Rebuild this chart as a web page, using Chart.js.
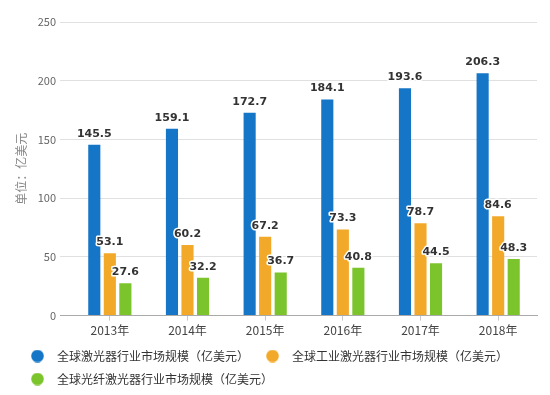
<!DOCTYPE html>
<html><head><meta charset="utf-8">
<script src="https://cdn.jsdelivr.net/npm/chart.js@4/dist/chart.umd.min.js"></script>
<style>html,body{margin:0;padding:0;background:#fff}</style>
</head><body>
<canvas id="c" width="550" height="395"></canvas>
<script>
const categories = ['2013年','2014年','2015年','2016年','2017年','2018年'];
const seriesNames = ['全球激光器行业市场规模（亿美元）','全球工业激光器行业市场规模（亿美元）','全球光纤激光器行业市场规模（亿美元）'];
const globalLaser = [145.5,159.1,172.7,184.1,193.6,206.3];
const industrialLaser = [53.1,60.2,67.2,73.3,78.7,84.6];
const fiberLaser = [27.6,32.2,36.7,40.8,44.5,48.3];
const yMin = 0, yMax = 250, yStep = 50;
const yTitle = '单位：亿美元';
const colors = ['#1576c7','#f2a929','#7cc42c'];

const CJK = '"Noto Sans CJK SC", "Noto Sans", sans-serif';

function dot(color){
  const c=document.createElement('canvas'); c.width=20; c.height=13;
  const g=c.getContext('2d'); g.fillStyle=color; g.beginPath(); g.arc(6.5,6.5,6.3,0,Math.PI*2); g.fill();
  return c;
}
const dots = colors.map(dot);

const valueLabels = {
  id:'valueLabels',
  afterDatasetsDraw(chart){
    const ctx=chart.ctx; ctx.save();
    ctx.font='bold 11px "DejaVu Sans", sans-serif';
    ctx.textAlign='center'; ctx.textBaseline='middle'; ctx.lineJoin='round';
    chart.data.datasets.forEach((ds,i)=>{
      const meta=chart.getDatasetMeta(i);
      meta.data.forEach((bar,j)=>{
        const t=ds.data[j].toFixed(1); const y=bar.y-11;
        ctx.lineWidth=3; ctx.strokeStyle='#fff'; ctx.strokeText(t,bar.x,y);
        ctx.fillStyle='#333'; ctx.fillText(t,bar.x,y);
      });
    });
    ctx.restore();
  }
};

new Chart(document.getElementById('c'), {
  type:'bar',
  data:{
    labels:categories,
    datasets:[
      {label:seriesNames[0], data:globalLaser, backgroundColor:colors[0]},
      {label:seriesNames[1], data:industrialLaser, backgroundColor:colors[1]},
      {label:seriesNames[2], data:fiberLaser, backgroundColor:colors[2]}
    ]
  },
  options:{
    responsive:false, animation:false,
    categoryPercentage:0.6, barPercentage:0.78,
    layout:{padding:{left:20,right:13,top:22,bottom:0}},
    plugins:{
      tooltip:{enabled:false},
      legend:{
        position:'bottom', align:'start',
        labels:{
          usePointStyle:true, pointStyleWidth:20, boxHeight:12, padding:11,
          font:{size:12, family:CJK}, color:'#333',
          generateLabels(chart){
            const items = Chart.defaults.plugins.legend.labels.generateLabels(chart);
            items.forEach((it,i)=>{ it.pointStyle=dots[i]; it.text = it.text + '\u3000'; });
            return items;
          }
        }
      }
    },
    scales:{
      x:{
        afterFit(s){ s.height = s.height - 2; },
        grid:{display:true, offset:false, drawOnChartArea:false, tickLength:5, color:'#c8c8c8'},
        border:{display:true, color:'#aaa'},
        ticks:{font:{size:12, family:CJK}, color:'#444', padding:3}
      },
      y:{
        min:yMin, max:yMax,
        afterFit(s){ s.width = 51; },
        ticks:{stepSize:yStep, font:{size:11, family:CJK}, color:'#666', padding:4},
        grid:{color:c=> (c.tick && c.tick.value===0) ? '#aaa' : '#e0e0e0', tickLength:11},
        border:{display:false},
        title:{display:true, text:yTitle, color:'#888', font:{size:12, family:CJK}, padding:{top:-6,bottom:0}}
      }
    }
  },
  plugins:[valueLabels]
});
</script>
</body></html>
